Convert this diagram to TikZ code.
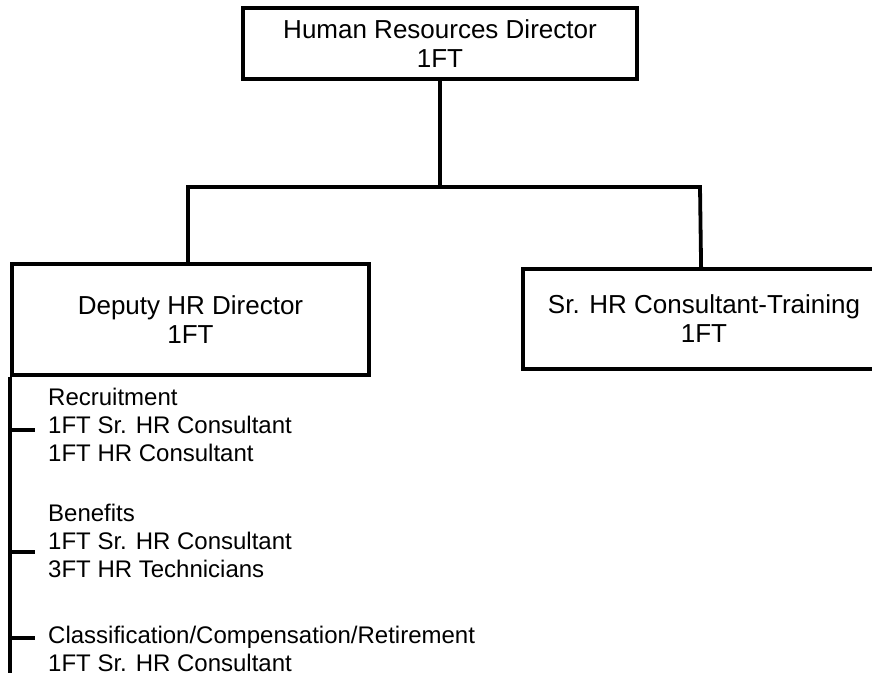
\documentclass[tikz,border=0pt]{standalone}
\usepackage{fontspec}
\setmainfont{Liberation Sans}
\usetikzlibrary{calc}
\begin{document}
\begin{tikzpicture}[x=1pt,y=-1pt,
  box/.style={draw,line width=3.8pt,align=center,inner sep=0pt,font=\fontsize{26}{29}\selectfont},
  conn/.style={line width=3.8pt},
  tick/.style={line width=3.2pt},
  item/.style={anchor=west,align=left,inner sep=0pt,font=\fontsize{24}{28.3}\selectfont}]
\useasboundingbox (0,0) rectangle (872,677);
\clip (0,0) rectangle (872,677);
\node[box,minimum width=394pt,minimum height=71pt] (top) at (440,43.5) {Human Resources Director\\1FT};
\node[box,minimum width=357pt,minimum height=111pt] (dep) at (190.5,319.5) {Deputy HR Director\\1FT};
\node[box,minimum width=362pt,minimum height=100pt] (sr) at (704,319) {Sr. HR Consultant-Training\\1FT};
\coordinate (jl) at (188,187);
\coordinate (jr) at (700,187);
\coordinate (jm) at (top.south |- jl);
\draw[conn] (top.south) -- (jm);
\draw[conn] (jl |- dep.north) -- (jl) -- (jr) -- ($(sr.north west)+(180,0)$);
\coordinate (railend) at (12,673);
\draw[conn] (dep.south west) -- (dep.south west |- railend);
\node[item] (g1) at (48,425) {Recruitment\\1FT Sr. HR Consultant\\1FT HR Consultant};
\node[item] (g2) at (48,541) {Benefits\\1FT Sr. HR Consultant\\3FT HR Technicians};
\node[item] (g3) at (48,649) {Classification/Compensation/Retirement\\1FT Sr. HR Consultant};
\draw[tick] (dep.south west |- 0,430) -- (35,430);
\draw[tick] (dep.south west |- 0,552) -- (35,552);
\draw[tick] (dep.south west |- 0,638) -- (35,638);
\end{tikzpicture}
\end{document}
